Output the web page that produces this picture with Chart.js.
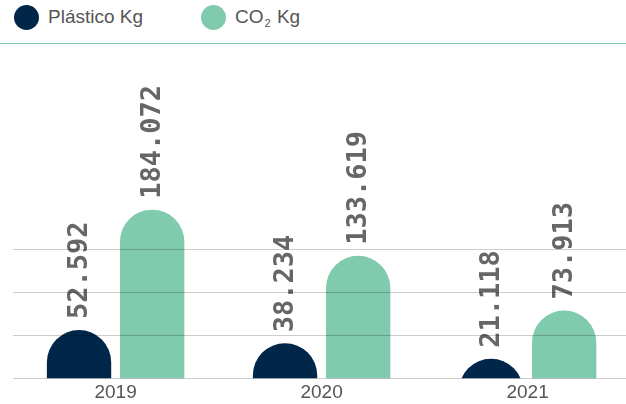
<!DOCTYPE html>
<html>
<head>
<meta charset="utf-8">
<script src="https://cdn.jsdelivr.net/npm/chart.js@4.4.1/dist/chart.umd.min.js"></script>
<style>
  html, body { margin: 0; padding: 0; background: #fff; }
  body { width: 626px; height: 404px; overflow: hidden; position: relative; font-family: "Liberation Sans", Arial, sans-serif; }
  .legend { position: absolute; top: 0; left: 0; width: 626px; height: 43px; border-bottom: 1px solid #80cbae; }
  .legend-item { position: absolute; top: 4px; height: 26px; display: flex; align-items: center; font-size: 19px; color: #555; }
  .legend-item .dot { width: 25px; height: 25px; border-radius: 50%; margin-right: 9px; }
  .legend-item sub { font-size: 11px; position: relative; top: 6px; vertical-align: baseline; line-height: 0; margin: 0 1px; }
  .chart-box { position: absolute; top: 44px; left: 0; width: 632px; height: 364px; }
</style>
</head>
<body>
<div class="legend">
  <div class="legend-item" style="left:14px"><span class="dot" style="background:#00264a"></span>Plástico Kg</div>
  <div class="legend-item" style="left:201px"><span class="dot" style="background:#80cbae"></span>CO<sub>2</sub>&nbsp;Kg</div>
</div>
<div class="chart-box"><canvas id="chart"></canvas></div>
<script>
const years = ['2019', '2020', '2021'];
const plasticKg = [52592, 38234, 21118];
const co2Kg = [184072, 133619, 73913];
const gridValues = [0, 46750, 93500, 140250];
const yMax = 365000;

// bars grow from below the axis (clipped there) so short bars keep the full round top
const barBase = -75000;

function formatKg(v) {
    return String(v).replace(/\B(?=(\d{3})+(?!\d))/g, '.');
}

const valueLabels = {
    id: 'valueLabels',
    afterDatasetsDraw(chart) {
        const ctx = chart.ctx;
        ctx.save();
        ctx.font = 'bold 27px "DejaVu Sans Mono", monospace';
        ctx.fillStyle = '#666';
        ctx.textAlign = 'left';
        ctx.textBaseline = 'middle';
        chart.data.datasets.forEach((ds, i) => {
            chart.getDatasetMeta(i).data.forEach((bar, j) => {
                ctx.save();
                ctx.translate(bar.x, bar.y - 11);
                ctx.rotate(-Math.PI / 2);
                ctx.fillText(formatKg(ds.data[j]), 0, 1);
                ctx.restore();
            });
        });
        ctx.restore();
    }
};

new Chart(document.getElementById('chart'), {
    type: 'bar',
    data: {
        labels: years,
        datasets: [
            { label: 'Plástico Kg', data: plasticKg, backgroundColor: '#00264a' },
            { label: 'CO2 Kg', data: co2Kg, backgroundColor: '#80cbae' }
        ]
    },
    options: {
        responsive: true,
        maintainAspectRatio: false,
        animation: false,
        layout: { padding: { left: 12.6, right: 1.4, top: 0, bottom: 1 } },
        datasets: {
            bar: {
                base: barBase,
                clip: 0,
                categoryPercentage: 0.71,
                barPercentage: 0.88,
                borderSkipped: 'start',
                borderRadius: { topLeft: 40, topRight: 40, bottomLeft: 0, bottomRight: 0 }
            }
        },
        plugins: { legend: { display: false }, tooltip: { enabled: false } },
        scales: {
            x: {
                grid: { display: false, drawTicks: false },
                border: { display: false },
                ticks: { color: '#555', font: { family: '"Liberation Sans", Arial, sans-serif', size: 19 }, padding: 3 }
            },
            y: {
                min: 0,
                max: yMax,
                afterBuildTicks: scale => { scale.ticks = gridValues.map(v => ({ value: v })); },
                grid: { color: 'rgba(0,0,0,0.2)', drawTicks: false, z: 1 },
                border: { display: false },
                ticks: { display: false }
            }
        }
    },
    plugins: [valueLabels]
});
</script>
</body>
</html>
